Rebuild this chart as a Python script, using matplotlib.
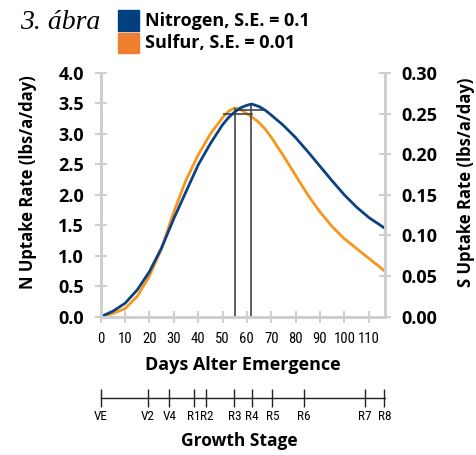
import matplotlib
matplotlib.use("Agg")
import matplotlib.pyplot as plt
from matplotlib.patches import Rectangle
from matplotlib.transforms import ScaledTranslation

# days after emergence
days = [0, 5, 10, 15, 20, 25, 30, 35, 40, 45, 50, 52.5, 55, 57.5, 60, 62, 65, 67.5, 70, 75, 80, 85, 90, 95,
        100, 105, 110, 116.7]
# N uptake rate (lbs/a/day), left axis
n_rate = [0.0, 0.09, 0.22, 0.44, 0.74, 1.13, 1.61, 2.05, 2.49, 2.84, 3.15, 3.27, 3.36, 3.43, 3.47, 3.49, 3.45,
          3.39, 3.31, 3.14, 2.94, 2.71, 2.47, 2.23, 2.00, 1.80, 1.63, 1.45]
# S uptake rate (lbs/a/day), right axis
s_rate = [0.0, 0.004, 0.010, 0.025, 0.050, 0.084, 0.129, 0.168, 0.199, 0.225, 0.245, 0.253, 0.257, 0.255,
          0.250, 0.246, 0.239, 0.231, 0.221, 0.198, 0.174, 0.150, 0.129, 0.111, 0.096, 0.084, 0.072, 0.056]

# day of peak uptake and bar showing its spread
peak_day = {"N": 61.6, "S": 55.2}
peak_val = {"N": 3.49, "S": 3.42}
bar_y = {"N": 3.40, "S": 3.32}
bar_span = {"N": (55.3, 67.0), "S": (50.1, 62.6)}

stage_names = ["VE", "V2", "V4", "R1", "R2", "R3", "R4", "R5", "R6", "R7", "R8"]
stage_days = [0, 19.4, 28.2, 38.2, 43.1, 54.9, 62.0, 70.5, 83.5, 108.5, 116.4]

blue = "#0b4282"
orange = "#f7961e"
grey = "#cfcfcf"
bold_font = "Open Sans"
narrow = ["Roboto Condensed", "Liberation Sans Narrow", "Roboto"]

W, H = 477, 455
fig = plt.figure(figsize=(W / 100, H / 100), dpi=100)

x0, x1, y0, y1 = 100.7, 385, 316.7, 73
ax = fig.add_axes([x0 / W, 1 - y0 / H, (x1 - x0) / W, (y0 - y1) / H])
ax2 = ax.twinx()
ax.set_zorder(ax2.get_zorder() + 1)
ax.patch.set_visible(False)

ax2.plot(days, s_rate, color=orange, lw=2)
ax.plot(days, n_rate, color=blue, lw=2)

for k in ["S", "N"]:
    ax.vlines(peak_day[k], 0, peak_val[k], color="#444444", lw=1.2, zorder=1)
    ax.hlines(bar_y[k], bar_span[k][0], bar_span[k][1], color="#444444", lw=1.2, zorder=1)

ax.set_xlim(0, 116.7)
ax.set_ylim(0, 4.0)
ax2.set_ylim(0, 0.30)
ax.set_xticks(range(0, 111, 10))
ax.set_yticks([i * 0.5 for i in range(9)])
ax.set_yticklabels(["%.1f" % (i * 0.5) for i in range(9)], fontfamily=bold_font, fontweight="bold", fontsize=13)
ax2.set_yticks([i * 0.05 for i in range(7)])
ax2.set_yticklabels(["%.2f" % (i * 0.05) for i in range(7)], fontfamily=bold_font, fontweight="bold", fontsize=13)
ax.set_xticklabels([str(d) for d in range(0, 111, 10)], fontfamily=narrow, fontsize=10.5)

for a in (ax, ax2):
    a.spines["top"].set_visible(False)
    for s in ("left", "right", "bottom"):
        a.spines[s].set_color(grey)
        a.spines[s].set_linewidth(2)
    a.tick_params(direction="inout", length=8, width=1.5, color=grey, pad=8)

ax.tick_params(axis="x", pad=7)

fig.text(28 / W, 1 - 182 / H, "N Uptake Rate (lbs/a/day)", rotation=90, ha="center", va="center",
         fontfamily=bold_font, fontweight="bold", fontsize=12)
fig.text(466 / W, 1 - 182 / H, "S Uptake Rate (lbs/a/day)", rotation=90, ha="center", va="center",
         fontfamily=bold_font, fontweight="bold", fontsize=12)
fig.text(243 / W, 1 - 365 / H, "Days Alter Emergence", ha="center", va="center",
         fontfamily=bold_font, fontweight="bold", fontsize=13)

# growth stage axis
ax3 = fig.add_axes([x0 / W, 1 - 398 / H, (x1 - x0) / W, 0.0001])
ax3.set_xlim(0, 116.7)
ax3.set_yticks([])
for s in ("left", "right", "top"):
    ax3.spines[s].set_visible(False)
ax3.spines["bottom"].set_color("#222222")
ax3.spines["bottom"].set_linewidth(1)
ax3.set_xticks(stage_days)
labels = ax3.set_xticklabels(stage_names, fontfamily=narrow, fontsize=9.5)
ax3.tick_params(axis="x", direction="inout", length=13, width=1, color="#222222", pad=2)
# R1 and R2 sit close together: push them apart a little
labels[3].set_ha("right")
labels[3].set_transform(labels[3].get_transform() + ScaledTranslation(6.5 / 100, 0, fig.dpi_scale_trans))
labels[4].set_ha("left")
labels[4].set_transform(labels[4].get_transform() + ScaledTranslation(-5.5 / 100, 0, fig.dpi_scale_trans))
fig.text(239 / W, 1 - 441 / H, "Growth Stage", ha="center", va="center",
         fontfamily=bold_font, fontweight="bold", fontsize=12.5)

# title and legend
fig.text(20 / W, 1 - 29 / H, "3. ábra", fontfamily="Liberation Serif", style="italic", fontsize=20)
fig.add_artist(Rectangle((118 / W, 1 - 31 / H), 21 / W, 21 / H, color="#003f80", transform=fig.transFigure))
fig.add_artist(Rectangle((118 / W, 1 - 53 / H), 21 / W, 20 / H, color="#ee7f2f", transform=fig.transFigure))
fig.text(145 / W, 1 - 21 / H, "Nitrogen, S.E. = 0.1", va="center", fontfamily=bold_font, fontweight="bold", fontsize=13)
fig.text(145 / W, 1 - 43 / H, "Sulfur, S.E. = 0.01", va="center", fontfamily=bold_font, fontweight="bold", fontsize=13)

fig.savefig("out.png", dpi=100)
